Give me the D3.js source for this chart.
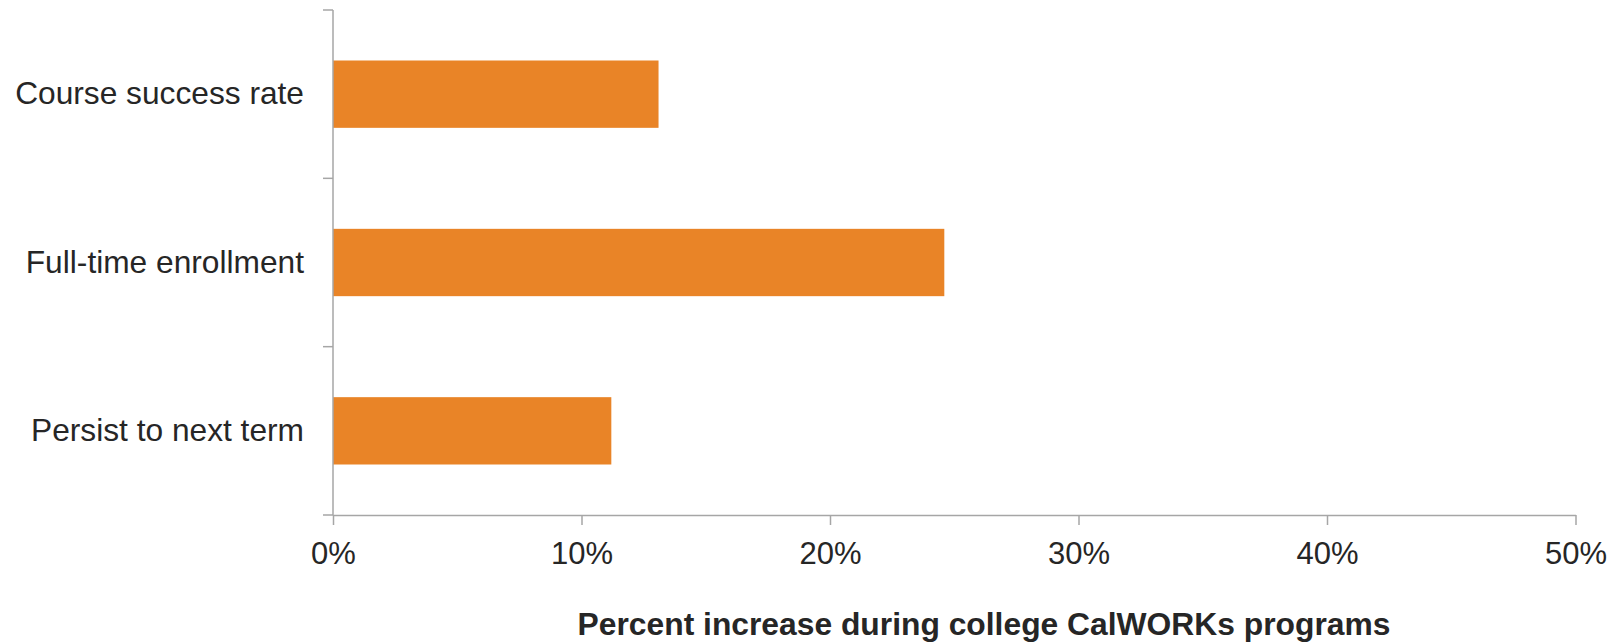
<!DOCTYPE html>
<html>
<head>
<meta charset="utf-8">
<script src="https://cdn.jsdelivr.net/npm/d3@7"></script>
<style>
  html, body { margin: 0; padding: 0; background: #ffffff; }
  svg { display: block; }
</style>
</head>
<body>
<svg id="chart" width="1619" height="642"></svg>
<script>
const categories = ["Course success rate", "Full-time enrollment", "Persist to next term"];
const values = [13.1, 24.6, 11.2];
const xTicks = [0, 10, 20, 30, 40, 50];
const xTitle = "Percent increase during college CalWORKs programs";

(function () {
const svg = d3.select("#chart");
const mLeft = 333, mRight = 1575.5, mTop = 10, mBottom = 515;
const axisColor = "#a6a6a6";
const textColor = "#262626";
const barColor = "#e98427";
const font = "'Liberation Sans', Arial, sans-serif";

const x = d3.scaleLinear().domain([0, 50]).range([mLeft, mRight]);
const y = d3.scaleBand().domain(categories).range([mTop, mBottom]).paddingInner(0.6).paddingOuter(0.3);

// bars
svg.append("g").selectAll("rect")
  .data(categories)
  .join("rect")
  .attr("x", x(0))
  .attr("y", d => y(d))
  .attr("width", (d, i) => x(values[i]) - x(0))
  .attr("height", y.bandwidth())
  .attr("fill", barColor);

// y axis line and category-boundary ticks
const yAxisG = svg.append("g");
yAxisG.append("line")
  .attr("x1", mLeft).attr("x2", mLeft)
  .attr("y1", mTop).attr("y2", mBottom)
  .attr("stroke", axisColor).attr("stroke-width", 1.5);
const boundaries = [mTop].concat(categories.map(c => y(c) + y.bandwidth() / 2 + y.step() / 2));
yAxisG.selectAll("line.tick")
  .data(boundaries)
  .join("line")
  .attr("class", "tick")
  .attr("x1", mLeft - 10).attr("x2", mLeft)
  .attr("y1", d => d).attr("y2", d => d)
  .attr("stroke", axisColor).attr("stroke-width", 1.5);

// category labels
svg.append("g").selectAll("text")
  .data(categories)
  .join("text")
  .attr("x", mLeft - 29)
  .attr("y", d => y(d) + y.bandwidth() / 2)
  .attr("dy", "0.32em")
  .attr("text-anchor", "end")
  .attr("font-family", font)
  .attr("font-size", 31.7)
  .attr("fill", textColor)
  .text(d => d);

// x axis
const xAxis = d3.axisBottom(x)
  .tickValues(xTicks)
  .tickSize(10)
  .tickSizeOuter(0)
  .tickPadding(20)
  .tickFormat(d => d + "%");
const xg = svg.append("g").attr("transform", `translate(0,${mBottom})`).call(xAxis);
xg.select(".domain").attr("stroke", axisColor).attr("stroke-width", 1.5);
xg.selectAll(".tick line").attr("stroke", axisColor).attr("stroke-width", 1.5);
xg.selectAll(".tick text")
  .attr("font-family", font)
  .attr("font-size", 31)
  .attr("fill", textColor)
  .attr("dy", null)
  .attr("y", 49.3);

// x axis title
svg.append("text")
  .attr("x", 984)
  .attr("y", 635)
  .attr("text-anchor", "middle")
  .attr("font-family", font)
  .attr("font-weight", "bold")
  .attr("font-size", 31.8)
  .attr("fill", textColor)
  .text(xTitle);
})();
</script>
</body>
</html>
